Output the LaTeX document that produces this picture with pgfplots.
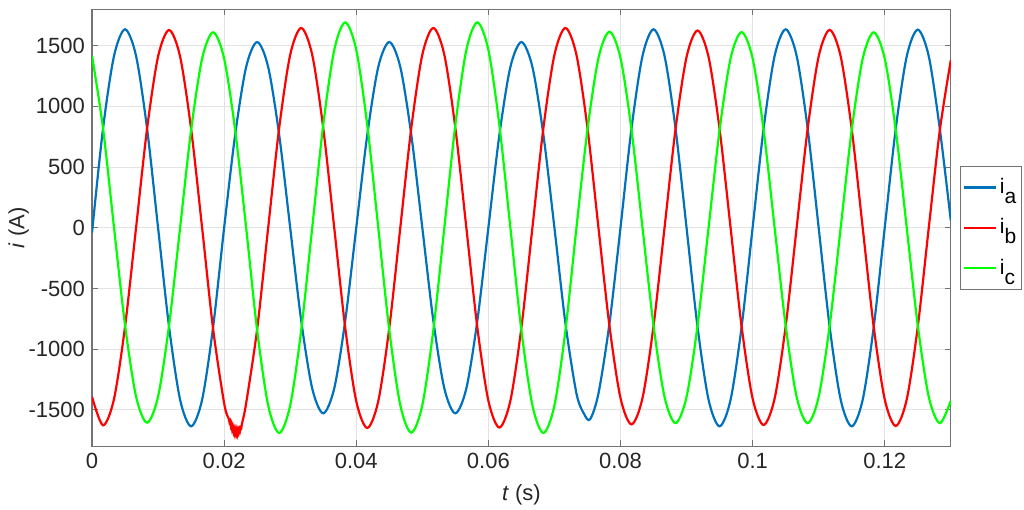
\documentclass[border=0pt]{standalone}
\usepackage{fontspec}
\setmainfont{Liberation Sans}
\usepackage{pgfplots}
\pgfplotsset{compat=1.18}

\definecolor{mblue}{rgb}{0,0.447,0.741}
\definecolor{axgray}{gray}{0.45}
\definecolor{txt}{gray}{0.15}

\begin{document}
\begin{tikzpicture}
\begin{axis}[
  name=ax,
  scale only axis,
  width=429.3pt, height=218.4pt,
  xmin=0, xmax=0.13,
  ymin=-1800, ymax=1800,
  xtick={0,0.02,0.04,0.06,0.08,0.1,0.12},
  xticklabels={0,0.02,0.04,0.06,0.08,0.1,0.12},
  ytick={-1500,-1000,-500,0,500,1000,1500},
  yticklabels={-1500,-1000,-500,0,500,1000,1500},
  tick align=inside,
  major tick length=3pt,
  tick style={axgray, line width=0.5pt},
  axis line style={axgray, line width=0.6pt},
  grid=major,
  major grid style={gray!22, line width=0.5pt},
  font=\fontsize{11}{13}\selectfont,
  ticklabel style={text=txt},
  xlabel={\textit{t} (s)},
  ylabel={\textit{i} (A)},
  label style={text=txt},
  xlabel style={yshift=-1pt},
  ylabel style={yshift=-7pt},
  legend style={at={(1.011,0.5)}, anchor=west, draw=axgray, fill=white,
    font=\fontsize{10.5}{12}\selectfont, row sep=7pt, inner xsep=1pt, inner ysep=4pt,
    legend cell align=left,
    nodes={inner xsep=1.5pt}},
  legend image code/.code={\draw[#1] (0pt,0pt) -- (16pt,0pt);},
  every axis plot/.append style={line width=1.1pt, smooth},
]
% i_a
\addplot[mblue] coordinates {
(0,-40) (0.001667,818) (0.003333,1416) (0.005,1635) (0.006667,1416) (0.008333,818)
(0.01,0) (0.011667,-818) (0.013333,-1417) (0.015,-1636) (0.016667,-1417) (0.018333,-818)
(0.02,0) (0.021667,765) (0.023333,1325) (0.025,1530) (0.026667,1325) (0.028333,765)
(0.03,0) (0.031667,-765) (0.033333,-1324) (0.035,-1529) (0.036667,-1324) (0.038333,-765)
(0.04,0) (0.041667,765) (0.043333,1325) (0.045,1530) (0.046667,1325) (0.048333,765)
(0.05,0) (0.051667,-765) (0.053333,-1324) (0.055,-1529) (0.056667,-1324) (0.058333,-765)
(0.06,0) (0.061667,765) (0.063333,1325) (0.065,1530) (0.066667,1325) (0.068333,765)
(0.07,0) (0.071667,-788) (0.073333,-1365) (0.0745,-1535) (0.0754,-1578) (0.076667,-1365) (0.078333,-788)
(0.08,0) (0.081667,818) (0.083333,1416) (0.085,1635) (0.086667,1416) (0.088333,818)
(0.09,0) (0.091667,-818) (0.093333,-1417) (0.095,-1636) (0.096667,-1417) (0.098333,-818)
(0.1,0) (0.101667,818) (0.103333,1416) (0.105,1635) (0.106667,1416) (0.108333,818)
(0.11,0) (0.111667,-818) (0.113333,-1417) (0.115,-1636) (0.116667,-1417) (0.118333,-818)
(0.12,0) (0.121667,816) (0.123333,1413) (0.125,1632) (0.126667,1413) (0.128333,816)
(0.13,60)
};
\addlegendentry{i\raisebox{-5pt}{a}}
% i_b
\addplot[red] coordinates {
(0,-1393) (0.001667,-1628) (0.003333,-1410) (0.005,-814) (0.006667,0)
(0.008333,815) (0.01,1411) (0.011667,1629) (0.013333,1411) (0.015,815) (0.016667,0)
(0.018333,-835) (0.02,-1446)
(0.0207,-1575) (0.0208,-1600) (0.0209,-1590) (0.0210,-1630) (0.0211,-1615) (0.0212,-1660)
(0.0213,-1640) (0.0214,-1680) (0.0215,-1655) (0.0216,-1695) (0.0217,-1665) (0.0218,-1700)
(0.0219,-1670) (0.0220,-1700) (0.0221,-1670) (0.0222,-1690) (0.0223,-1660) (0.0224,-1675)
(0.0225,-1645) (0.0226,-1650) (0.0227,-1615)
(0.023333,-1446) (0.025,-835) (0.026667,0)
(0.028333,823) (0.03,1425) (0.031667,1646) (0.033333,1425) (0.035,823) (0.036667,0)
(0.038333,-825) (0.04,-1429) (0.041667,-1650) (0.043333,-1429) (0.045,-825) (0.046667,0)
(0.048333,823) (0.05,1425) (0.051667,1646) (0.053333,1425) (0.055,823) (0.056667,0)
(0.058333,-823) (0.06,-1425) (0.061667,-1646) (0.063333,-1425) (0.065,-823) (0.066667,0)
(0.068333,823) (0.07,1425) (0.071667,1646) (0.073333,1425) (0.075,823) (0.076667,0)
(0.078333,-810) (0.08,-1403) (0.081667,-1620) (0.083333,-1403) (0.085,-810) (0.086667,0)
(0.088333,813) (0.09,1407) (0.091667,1625) (0.093333,1407) (0.095,813) (0.096667,0)
(0.098333,-813) (0.1,-1407) (0.101667,-1625) (0.103333,-1407) (0.105,-813) (0.106667,0)
(0.108333,815) (0.11,1412) (0.111667,1630) (0.113333,1412) (0.115,815) (0.116667,0)
(0.118333,-817) (0.12,-1414) (0.121667,-1633) (0.123333,-1414) (0.125,-817) (0.126667,0)
(0.128333,800) (0.13,1380)
};
\addlegendentry{i\raisebox{-5pt}{b}}
% i_c
\addplot[green] coordinates {
(0,1418) (0.001667,820) (0.003333,0)
(0.005,-803) (0.006667,-1391) (0.008333,-1606) (0.01,-1391) (0.011667,-803) (0.013333,0)
(0.015,805) (0.016667,1394) (0.018333,1610) (0.02,1394) (0.021667,805) (0.023333,0)
(0.025,-846) (0.026667,-1464) (0.028333,-1691) (0.03,-1464) (0.031667,-846) (0.033333,0)
(0.035,846) (0.036667,1465) (0.038333,1692) (0.04,1465) (0.041667,846) (0.043333,0)
(0.045,-844) (0.046667,-1462) (0.048333,-1688) (0.05,-1462) (0.051667,-844) (0.053333,0)
(0.055,846) (0.056667,1465) (0.058333,1692) (0.06,1465) (0.061667,846) (0.063333,0)
(0.065,-846) (0.066667,-1464) (0.068333,-1691) (0.07,-1464) (0.071667,-846) (0.073333,0)
(0.075,808) (0.076667,1399) (0.078333,1615) (0.08,1399) (0.081667,808) (0.083333,0)
(0.085,-805) (0.086667,-1394) (0.088333,-1610) (0.09,-1394) (0.091667,-805) (0.093333,0)
(0.095,806) (0.096667,1396) (0.098333,1612) (0.1,1396) (0.101667,806) (0.103333,0)
(0.105,-805) (0.106667,-1394) (0.108333,-1610) (0.11,-1394) (0.111667,-805) (0.113333,0)
(0.115,805) (0.116667,1394) (0.118333,1610) (0.12,1394) (0.121667,805) (0.123333,0)
(0.125,-805) (0.126667,-1394) (0.128333,-1610) (0.13,-1426)
};
\addlegendentry{i\raisebox{-5pt}{c}}
\end{axis}
\pgfresetboundingbox
\path ([xshift=-46pt,yshift=-31.5pt]ax.south west) rectangle ([xshift=36.6pt,yshift=4.65pt]ax.north east);
\end{tikzpicture}
\end{document}
